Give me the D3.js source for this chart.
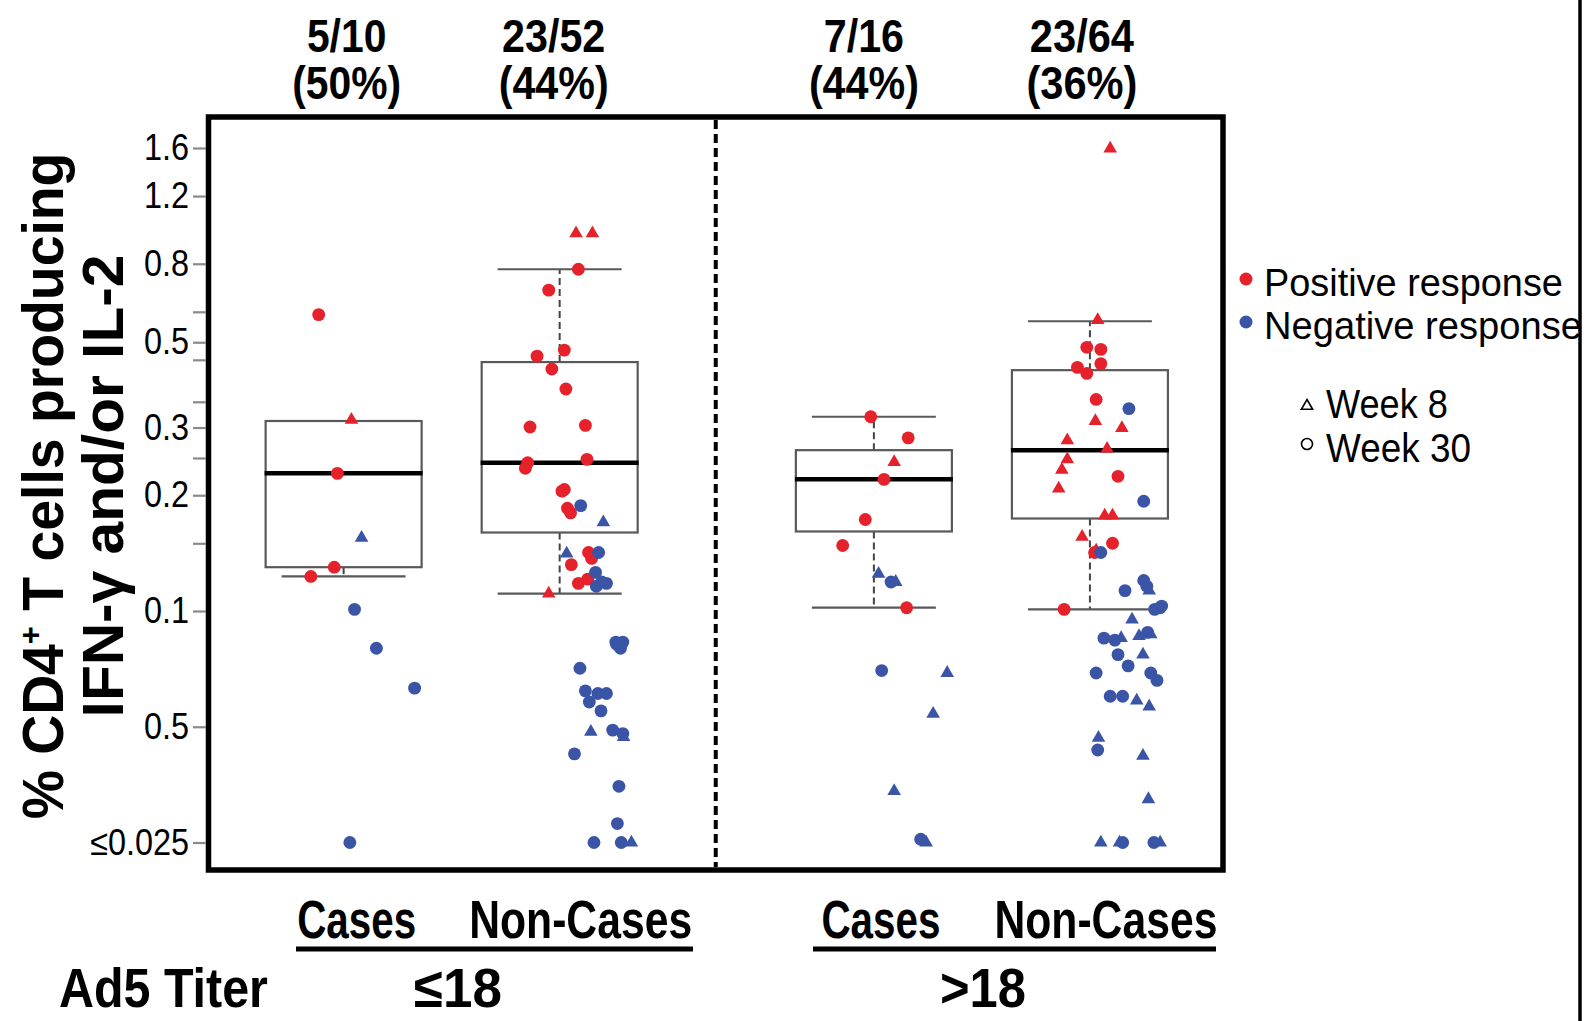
<!DOCTYPE html>
<meta charset="utf-8">
<body style="margin:0;background:#fff">

<script src="https://d3js.org/d3.v7.min.js"></script>
<script>

// ---- data ----
var panels = ["≤18", ">18"];               // Ad5 titer
var outcomes = ["Cases", "Non-Cases"];
var groupCounts = ["5/10", "23/52", "7/16", "23/64"];
var groupPercents = ["(50%)", "(44%)", "(44%)", "(36%)"];

// box statistics per group (Cases ≤18, Non-Cases ≤18, Cases >18, Non-Cases >18)
var whiskerLow  = [0.123, 0.111, 0.102, 0.101];
var quart1      = [0.130, 0.160, 0.161, 0.174];
var medians     = [0.228, 0.243, 0.220, 0.262];
var quart3      = [0.312, 0.444, 0.262, 0.423];
var whiskerHigh = [0.312, 0.774, 0.320, 0.567];

// points: [jitter (-1..1 of half box), value, response P/N, week 8/30]
var ptsG1 = [
  [-0.32, 0.59, "P", 30], [0.10, 0.314, "P", 8], [-0.08, 0.228, "P", 30],
  [-0.12, 0.130, "P", 30], [-0.42, 0.123, "P", 30],
  [0.23, 0.155, "N", 8], [0.14, 0.101, "N", 30], [0.42, 0.080, "N", 30],
  [0.91, 0.063, "N", 30], [0.08, 0.025, "N", 30]
];
var ptsG2 = [
  [0.21, 0.96, "P", 8], [0.42, 0.96, "P", 8], [0.24, 0.774, "P", 30], [-0.14, 0.683, "P", 30],
  [0.06, 0.477, "P", 30], [-0.29, 0.460, "P", 30], [-0.10, 0.426, "P", 30], [0.08, 0.378, "P", 30],
  [-0.38, 0.301, "P", 30], [0.33, 0.304, "P", 30], [-0.41, 0.243, "P", 30], [-0.44, 0.235, "P", 30],
  [0.35, 0.248, "P", 30], [0.03, 0.205, "P", 30], [0.06, 0.207, "P", 30], [0.10, 0.185, "P", 30],
  [0.14, 0.180, "P", 30], [0.37, 0.142, "P", 30], [0.41, 0.137, "P", 30], [0.15, 0.132, "P", 30],
  [0.24, 0.118, "P", 30], [0.36, 0.121, "P", 30], [-0.14, 0.111, "P", 8],
  [0.27, 0.188, "N", 30], [0.56, 0.170, "N", 8], [0.09, 0.141, "N", 8], [0.50, 0.142, "N", 30],
  [0.46, 0.126, "N", 30], [0.47, 0.116, "N", 30], [0.54, 0.119, "N", 30], [0.60, 0.118, "N", 30],
  [0.72, 0.083, "N", 30], [0.81, 0.083, "N", 30], [0.78, 0.080, "N", 30], [0.73, 0.082, "N", 30],
  [0.26, 0.071, "N", 30], [0.33, 0.062, "N", 30], [0.49, 0.061, "N", 30], [0.60, 0.061, "N", 30],
  [0.38, 0.058, "N", 30], [0.53, 0.055, "N", 30], [0.40, 0.0485, "N", 8], [0.68, 0.049, "N", 30],
  [0.81, 0.048, "N", 30], [0.82, 0.047, "N", 8], [0.19, 0.0425, "N", 30], [0.76, 0.035, "N", 30],
  [0.74, 0.028, "N", 30], [0.44, 0.025, "N", 30], [0.79, 0.025, "N", 30], [0.92, 0.025, "N", 8]
];
var ptsG3 = [
  [-0.04, 0.320, "P", 30], [0.44, 0.282, "P", 30], [0.26, 0.244, "P", 8], [0.13, 0.220, "P", 30],
  [-0.11, 0.173, "P", 30], [-0.40, 0.148, "P", 30], [0.42, 0.102, "P", 30],
  [0.06, 0.125, "N", 8], [0.22, 0.119, "N", 30], [0.28, 0.119, "N", 8], [0.10, 0.070, "N", 30],
  [0.94, 0.069, "N", 8], [0.76, 0.054, "N", 8], [0.26, 0.034, "N", 8], [0.60, 0.0255, "N", 30],
  [0.67, 0.025, "N", 8]
];
var ptsG4 = [
  [0.26, 1.595, "P", 8], [0.10, 0.571, "P", 8], [-0.04, 0.485, "P", 30], [0.14, 0.479, "P", 30],
  [0.14, 0.440, "P", 30], [-0.16, 0.430, "P", 30], [-0.04, 0.415, "P", 30], [0.08, 0.355, "P", 30],
  [0.07, 0.312, "P", 8], [0.41, 0.299, "P", 8], [-0.29, 0.278, "P", 8], [0.22, 0.264, "P", 8],
  [-0.29, 0.248, "P", 8], [-0.36, 0.233, "P", 8], [0.36, 0.224, "P", 30], [-0.40, 0.208, "P", 8],
  [0.19, 0.177, "P", 8], [0.29, 0.177, "P", 8], [-0.10, 0.156, "P", 8], [0.29, 0.150, "P", 30],
  [0.08, 0.1435, "P", 8], [0.06, 0.142, "P", 30], [-0.33, 0.101, "P", 30],
  [0.50, 0.336, "N", 30], [0.69, 0.193, "N", 30], [0.14, 0.142, "N", 30], [0.69, 0.120, "N", 30],
  [0.73, 0.116, "N", 30], [0.76, 0.113, "N", 8], [0.45, 0.113, "N", 30], [0.83, 0.101, "N", 30],
  [0.90, 0.102, "N", 30], [0.92, 0.103, "N", 30], [0.54, 0.095, "N", 8], [0.18, 0.085, "N", 30],
  [0.32, 0.084, "N", 30], [0.40, 0.085, "N", 8], [0.63, 0.086, "N", 8], [0.74, 0.088, "N", 30],
  [0.78, 0.087, "N", 8], [0.36, 0.077, "N", 30], [0.68, 0.077, "N", 8], [0.49, 0.072, "N", 30],
  [0.08, 0.069, "N", 30], [0.78, 0.069, "N", 30], [0.86, 0.066, "N", 30], [0.26, 0.060, "N", 30],
  [0.42, 0.060, "N", 30], [0.60, 0.0585, "N", 8], [0.76, 0.0564, "N", 8], [0.11, 0.0468, "N", 8],
  [0.10, 0.0435, "N", 30], [0.68, 0.042, "N", 8], [0.75, 0.0324, "N", 8], [0.14, 0.025, "N", 8],
  [0.38, 0.025, "N", 8], [0.42, 0.025, "N", 30], [0.82, 0.025, "N", 30], [0.90, 0.025, "N", 8]
];
var groupPoints = [ptsG1, ptsG2, ptsG3, ptsG4];

// y axis ticks (the original labels 0.05 as "0.5")
var tickValues = [0.025, 0.05, 0.1, 0.2, 0.3, 0.5, 0.8, 1.2, 1.6];
var tickLabels = ["≤0.025", "0.5", "0.1", "0.2", "0.3", "0.5", "0.8", "1.2", "1.6"];
var minorTicks = [0.15, 0.25, 0.35, 0.45, 0.6];

// ---- layout ----
var W = 1596, H = 1021;
var plot = {left: 208.5, right: 1223, top: 117, bottom: 870};
var red = "#e5222b", blue = "#3b55a6";
var font = "'Liberation Sans', Arial, sans-serif";

var svg = d3.select("body").append("svg")
    .attr("width", W)
    .attr("height", H)
    .style("display", "block");

var y = d3.scaleLog()
    .domain([0.025, 1.6])
    .range([842.5, 148]);

var xPanel = d3.scaleBand()
    .domain(panels)
    .range([plot.left, plot.right]);

var panelAlign = [0.464, 0.543];
var xIn = panels.map(function(p, i) {
  return d3.scalePoint().domain(outcomes)
      .range([0, xPanel.bandwidth()])
      .padding(0.674)
      .align(panelAlign[i]);
});

function cx(g) {
  var p = Math.floor(g / 2);
  return xPanel(panels[p]) + xIn[p](outcomes[g % 2]);
}

var boxHalf = 78, capHalf = 62;
var jitter = d3.scaleLinear().domain([-1, 1]).range([-boxHalf, boxHalf]);

// text squeezed/stretched horizontally to a target width
function fitText(x, yy, str, w, size, opts) {
  opts = opts || {};
  var g = svg.append("g");
  var t = g.append("text")
      .attr("text-anchor", opts.anchor || "middle")
      .style("font-family", font)
      .style("font-weight", opts.weight || "bold")
      .style("font-size", size + "px")
      .attr("fill", "#000");
  if (opts.build) opts.build(t); else t.text(str);
  var nat = opts.measure ? opts.measure(t) : t.node().getComputedTextLength();
  g.attr("transform", "translate(" + x + "," + yy + ")" +
      (opts.rotate ? " rotate(-90)" : "") + " scale(" + (w / nat) + ",1)");
  return t;
}

// ---- boxes ----
var gBox = svg.append("g");
d3.range(4).forEach(function(g) {
  var c = cx(g);
  // dashed whiskers
  gBox.append("line")
      .attr("x1", c).attr("x2", c)
      .attr("y1", y(quart3[g])).attr("y2", y(whiskerHigh[g]))
      .attr("stroke", "#444").attr("stroke-width", 2).attr("stroke-dasharray", "7,4");
  gBox.append("line")
      .attr("x1", c).attr("x2", c)
      .attr("y1", y(quart1[g])).attr("y2", y(whiskerLow[g]))
      .attr("stroke", "#444").attr("stroke-width", 2).attr("stroke-dasharray", "7,4");
  // caps
  [whiskerLow[g], whiskerHigh[g]].forEach(function(v) {
    gBox.append("line")
        .attr("x1", c - capHalf).attr("x2", c + capHalf)
        .attr("y1", y(v)).attr("y2", y(v))
        .attr("stroke", "#595959").attr("stroke-width", 2.2);
  });
  gBox.append("rect")
      .attr("x", c - boxHalf)
      .attr("y", y(quart3[g]))
      .attr("width", boxHalf * 2)
      .attr("height", y(quart1[g]) - y(quart3[g]))
      .attr("fill", "none")
      .attr("stroke", "#595959")
      .attr("stroke-width", 2.2);
  gBox.append("line")
      .attr("x1", c - boxHalf - 1).attr("x2", c + boxHalf + 1)
      .attr("y1", y(medians[g])).attr("y2", y(medians[g]))
      .attr("stroke", "#000").attr("stroke-width", 4.5);
});

// ---- points ----
var circleSym = d3.symbol().type(d3.symbolCircle).size(130);
var triSym = d3.symbol().type(d3.symbolTriangle).size(80);
groupPoints.forEach(function(pts, g) {
  svg.append("g").selectAll("path")
      .data(pts)
      .enter().append("path")
      .attr("d", function(d) { return d[3] === 8 ? triSym() : circleSym(); })
      .attr("transform", function(d) {
        return "translate(" + (cx(g) + jitter(d[0])) + "," + y(d[1]) + ")";
      })
      .attr("fill", function(d) { return d[2] === "P" ? red : blue; });
});

// ---- divider and frame ----
svg.append("line")
    .attr("x1", xPanel(panels[1])).attr("x2", xPanel(panels[1]))
    .attr("y1", plot.top + 3).attr("y2", plot.bottom - 3)
    .attr("stroke", "#000").attr("stroke-width", 4).attr("stroke-dasharray", "9,5");

svg.append("rect")
    .attr("x", plot.left).attr("y", plot.top)
    .attr("width", plot.right - plot.left)
    .attr("height", plot.bottom - plot.top)
    .attr("fill", "none").attr("stroke", "#000").attr("stroke-width", 5.5);

// ---- y axis ----
var yAxis = svg.append("g")
    .attr("transform", "translate(" + (plot.left - 2.5) + ",0)")
    .call(d3.axisLeft(y)
        .tickValues(tickValues)
        .tickFormat(function(d) { return tickLabels[tickValues.indexOf(d)]; })
        .tickSize(13)
        .tickPadding(4));
var yMinor = svg.append("g")
    .attr("transform", "translate(" + (plot.left - 2.5) + ",0)")
    .call(d3.axisLeft(y).tickValues(minorTicks).tickFormat("").tickSize(13));
[yAxis, yMinor].forEach(function(a) {
  a.select(".domain").remove();
  a.selectAll(".tick line").attr("stroke", "#8a8a8a").attr("stroke-width", 2.2);
  a.selectAll(".tick text")
      .attr("fill", "#000")
      .style("font-family", font)
      .style("font-size", "36px")
      .each(function() {
        var len = this.getComputedTextLength();
        if (len > 0) {
          d3.select(this).attr("textLength", len * 0.9).attr("lengthAdjust", "spacingAndGlyphs");
        }
      });
});

// y axis title
fitText(63, 486, null, 667, 57, {rotate: true, build: function(t) {
  t.append("tspan").text("% CD4");
  t.append("tspan").text("+").style("font-size", "32px").attr("dy", "-22");
  t.append("tspan").text(" T cells producing").attr("dy", "22");
}});
fitText(123, 486, "IFN-γ and/or IL-2", 463, 57, {rotate: true});

// ---- counts above the boxes (two lines in one text) ----
var topShift = [3, -6, -10, -8];
var pctW = [109, 110, 110, 111];
d3.range(4).forEach(function(g) {
  fitText(cx(g) + topShift[g], 52, null, pctW[g], 47, {
    build: function(t) {
      t.append("tspan").attr("x", 0).text(groupCounts[g]);
      t.append("tspan").attr("class", "pct").attr("x", 0).attr("dy", 47).text(groupPercents[g]);
    },
    measure: function(t) { return t.select(".pct").node().getComputedTextLength(); }
  });
});

// ---- category labels below ----
var catShift = [13, 21, 7, 16];
d3.range(4).forEach(function(g) {
  fitText(cx(g) + catShift[g], 938, outcomes[g % 2], g % 2 ? 223 : 119, 54);
});
[[296, 693], [813, 1216]].forEach(function(u) {
  svg.append("line")
      .attr("x1", u[0]).attr("x2", u[1])
      .attr("y1", 949).attr("y2", 949)
      .attr("stroke", "#000").attr("stroke-width", 5);
});
fitText(458, 1007, panels[0], 88, 56);
fitText(983, 1007, panels[1], 86, 56);
fitText(59, 1007, "Ad5 Titer", 209, 56, {anchor: "start"});

// ---- legend ----
var legX = 1246;
svg.append("circle").attr("cx", legX).attr("cy", 279).attr("r", 6.5).attr("fill", red);
svg.append("circle").attr("cx", legX).attr("cy", 322).attr("r", 6.5).attr("fill", blue);
fitText(1264, 296, "Positive response", 299, 39, {anchor: "start", weight: "normal"});
fitText(1264, 339, "Negative response", 318, 39, {anchor: "start", weight: "normal"});
svg.append("path")
    .attr("d", d3.symbol().type(d3.symbolTriangle).size(55)())
    .attr("transform", "translate(1307,406)")
    .attr("fill", "none").attr("stroke", "#000").attr("stroke-width", 1.6);
svg.append("circle").attr("cx", 1307).attr("cy", 444).attr("r", 5.5)
    .attr("fill", "none").attr("stroke", "#000").attr("stroke-width", 1.6);
fitText(1326, 418, "Week 8", 122, 40, {anchor: "start", weight: "normal"});
fitText(1326, 462, "Week 30", 145, 40, {anchor: "start", weight: "normal"});

// page edge line on the right of the original figure
svg.append("line")
    .attr("x1", 1580).attr("x2", 1580)
    .attr("y1", 0).attr("y2", H)
    .attr("stroke", "#000").attr("stroke-width", 3.5);

</script>
</body>
</html>
